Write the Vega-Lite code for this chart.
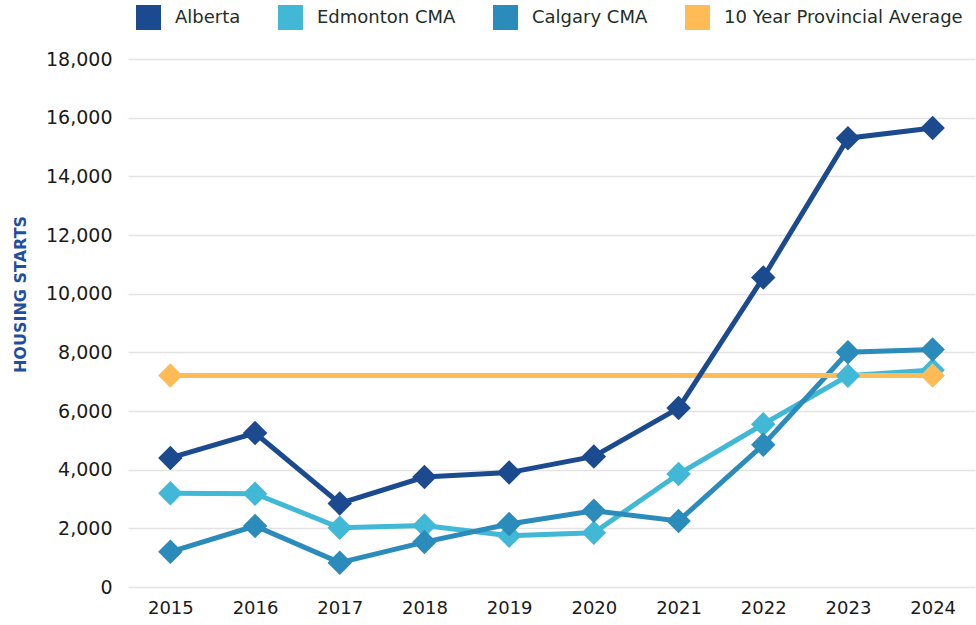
{
  "$schema": "https://vega.github.io/schema/vega-lite/v6.json",
  "width": 847,
  "height": 528,
  "autosize": {"type": "none"},
  "padding": {"left": 128, "top": 59, "right": 1, "bottom": 38},
  "background": "white",
  "config": {"view": {"stroke": null}, "font": "DejaVu Sans"},
  "data": {
    "values": [
      {"series": "Edmonton CMA", "year": "2015", "value": 3200},
      {"series": "Edmonton CMA", "year": "2016", "value": 3180},
      {"series": "Edmonton CMA", "year": "2017", "value": 2020},
      {"series": "Edmonton CMA", "year": "2018", "value": 2100},
      {"series": "Edmonton CMA", "year": "2019", "value": 1750},
      {"series": "Edmonton CMA", "year": "2020", "value": 1850},
      {"series": "Edmonton CMA", "year": "2021", "value": 3850},
      {"series": "Edmonton CMA", "year": "2022", "value": 5550},
      {"series": "Edmonton CMA", "year": "2023", "value": 7200},
      {"series": "Edmonton CMA", "year": "2024", "value": 7400},
      {"series": "Calgary CMA", "year": "2015", "value": 1200},
      {"series": "Calgary CMA", "year": "2016", "value": 2080},
      {"series": "Calgary CMA", "year": "2017", "value": 830},
      {"series": "Calgary CMA", "year": "2018", "value": 1530},
      {"series": "Calgary CMA", "year": "2019", "value": 2150},
      {"series": "Calgary CMA", "year": "2020", "value": 2600},
      {"series": "Calgary CMA", "year": "2021", "value": 2250},
      {"series": "Calgary CMA", "year": "2022", "value": 4850},
      {"series": "Calgary CMA", "year": "2023", "value": 8000},
      {"series": "Calgary CMA", "year": "2024", "value": 8100},
      {"series": "10 Year Provincial Average", "year": "2015", "value": 7210},
      {"series": "10 Year Provincial Average", "year": "2024", "value": 7210},
      {"series": "Alberta", "year": "2015", "value": 4400},
      {"series": "Alberta", "year": "2016", "value": 5250},
      {"series": "Alberta", "year": "2017", "value": 2850},
      {"series": "Alberta", "year": "2018", "value": 3750},
      {"series": "Alberta", "year": "2019", "value": 3900},
      {"series": "Alberta", "year": "2020", "value": 4450},
      {"series": "Alberta", "year": "2021", "value": 6100},
      {"series": "Alberta", "year": "2022", "value": 10550},
      {"series": "Alberta", "year": "2023", "value": 15300},
      {"series": "Alberta", "year": "2024", "value": 15650}
    ]
  },
  "encoding": {
    "x": {
      "field": "year",
      "type": "ordinal",
      "scale": {"type": "point", "padding": 0.5},
      "axis": {
        "title": null,
        "labelAngle": 0,
        "ticks": false,
        "domain": false,
        "grid": false,
        "labelFontSize": 18,
        "labelColor": "#1a1a1a",
        "labelPadding": 12
      }
    },
    "y": {
      "field": "value",
      "type": "quantitative",
      "scale": {"domain": [0, 18000], "nice": false},
      "axis": {
        "values": [0, 2000, 4000, 6000, 8000, 10000, 12000, 14000, 16000, 18000],
        "format": ",.0f",
        "ticks": false,
        "domain": false,
        "grid": true,
        "gridColor": "#e3e3e3",
        "gridWidth": 1.5,
        "labelFontSize": 19,
        "labelColor": "#1a1a1a",
        "labelPadding": 16,
        "title": "HOUSING STARTS",
        "titleColor": "#1f4f9e",
        "titleFontSize": 16,
        "titleFontWeight": "bold",
        "titleAngle": -90,
        "titleX": -108,
        "titleY": 235,
        "titleAlign": "center",
        "titleBaseline": "middle"
      }
    },
    "color": {
      "field": "series",
      "type": "nominal",
      "scale": {
        "domain": ["Alberta", "Edmonton CMA", "Calgary CMA", "10 Year Provincial Average"],
        "range": ["#1c4a8f", "#41b8d6", "#2b8bbb", "#ffbb55"]
      },
      "legend": {
        "title": null,
        "orient": "none",
        "legendX": 8,
        "legendY": -54,
        "direction": "horizontal",
        "symbolType": "square",
        "symbolSize": 625,
        "symbolStrokeWidth": 0,
        "symbolOpacity": 1,
        "labelFontSize": 18,
        "labelLimit": 400,
        "labelColor": "#1e2e28",
        "labelOffset": 14,
        "columnPadding": 37,
        "padding": 0
      }
    }
  },
  "layer": [
    {"mark": {"type": "line", "strokeWidth": 5}},
    {"mark": {"type": "point", "shape": "diamond", "filled": true, "size": 600, "opacity": 1}}
  ]
}
